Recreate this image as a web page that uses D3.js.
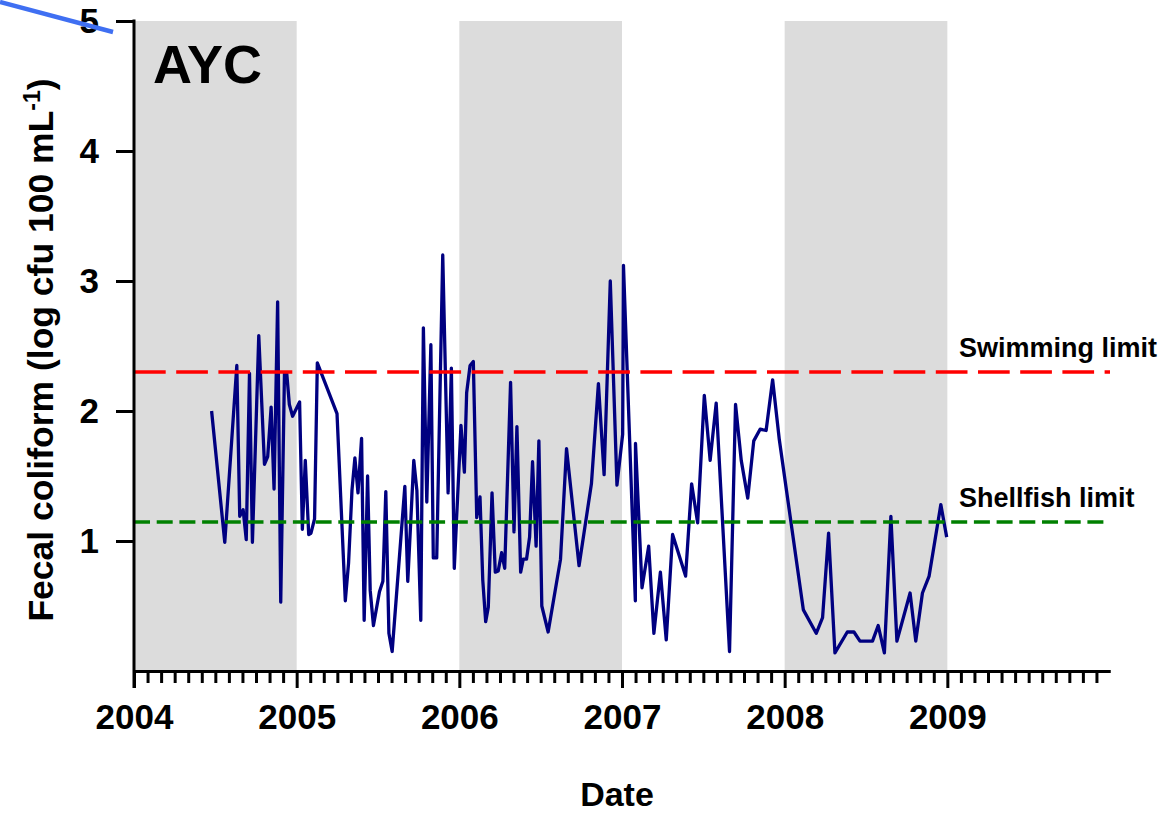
<!DOCTYPE html>
<html>
<head>
<meta charset="utf-8">
<script src="https://cdn.jsdelivr.net/npm/d3@7/dist/d3.min.js"></script>
<style>
  html, body { margin: 0; padding: 0; background: #fff; }
  svg { display: block; }
  text { font-family: "Liberation Sans", Arial, sans-serif; font-weight: bold; fill: #000; }
</style>
</head>
<body>
<svg id="chart" width="1173" height="813"></svg>
<script>
// ---- data (decimal years, log cfu per 100 mL) ----
const dates = [2004.477, 2004.558, 2004.632, 2004.650, 2004.671, 2004.690, 2004.710, 2004.728, 2004.767, 2004.802,
  2004.822, 2004.843, 2004.861, 2004.883, 2004.902, 2004.925, 2004.939, 2004.955, 2004.975, 2005.018,
  2005.035, 2005.053, 2005.074, 2005.088, 2005.110, 2005.127, 2005.248, 2005.299, 2005.319, 2005.340,
  2005.358, 2005.377, 2005.399, 2005.415, 2005.436, 2005.452, 2005.472, 2005.509, 2005.530, 2005.548,
  2005.567, 2005.587, 2005.665, 2005.683, 2005.720, 2005.739, 2005.763, 2005.779, 2005.800, 2005.825,
  2005.840, 2005.861, 2005.898, 2005.931, 2005.951, 2005.969, 2006.010, 2006.031, 2006.045, 2006.066,
  2006.086, 2006.107, 2006.127, 2006.144, 2006.162, 2006.178, 2006.201, 2006.221, 2006.239, 2006.260,
  2006.279, 2006.315, 2006.336, 2006.354, 2006.377, 2006.393, 2006.413, 2006.432, 2006.450, 2006.472,
  2006.489, 2006.507, 2006.546, 2006.622, 2006.659, 2006.736, 2006.812, 2006.855, 2006.890, 2006.928,
  2006.969, 2007.004, 2007.009, 2007.082, 2007.083, 2007.123, 2007.164, 2007.196, 2007.236, 2007.272,
  2007.311, 2007.391, 2007.428, 2007.465, 2007.506, 2007.542, 2007.579, 2007.661, 2007.698, 2007.733,
  2007.773, 2007.810, 2007.849, 2007.886, 2007.926, 2007.967, 2008.115, 2008.194, 2008.233, 2008.270,
  2008.309, 2008.385, 2008.426, 2008.463, 2008.540, 2008.575, 2008.613, 2008.653, 2008.690, 2008.771,
  2008.806, 2008.847, 2008.888, 2008.960, 2008.996];
const values = [2.00, 0.99, 2.35, 1.19, 1.24, 1.01, 2.29, 0.99, 2.58, 1.59,
  1.65, 2.03, 1.40, 2.84, 0.53, 2.29, 2.29, 2.05, 1.96, 2.07,
  1.09, 1.62, 1.05, 1.06, 1.17, 2.37, 1.98, 0.54, 0.83, 1.39,
  1.64, 1.37, 1.79, 0.39, 1.50, 0.62, 0.35, 0.61, 0.69, 1.38,
  0.29, 0.15, 1.42, 0.69, 1.62, 1.39, 0.39, 2.64, 1.30, 2.51,
  0.87, 0.87, 3.20, 1.37, 2.33, 0.79, 1.89, 1.53, 2.14, 2.35,
  2.38, 1.18, 1.34, 0.70, 0.38, 0.49, 1.37, 0.76, 0.77, 0.91,
  0.79, 2.22, 1.07, 1.88, 0.76, 0.86, 0.86, 1.03, 1.61, 0.96,
  1.77, 0.50, 0.30, 0.86, 1.71, 0.81, 1.44, 2.21, 1.51, 3.00,
  1.43, 1.82, 3.12, 0.54, 1.75, 0.64, 0.96, 0.29, 0.76, 0.24,
  1.05, 0.73, 1.44, 1.14, 2.12, 1.62, 2.06, 0.15, 2.05, 1.62,
  1.33, 1.77, 1.86, 1.85, 2.24, 1.78, 0.47, 0.29, 0.41, 1.06,
  0.14, 0.30, 0.30, 0.23, 0.23, 0.35, 0.14, 1.19, 0.23, 0.60,
  0.23, 0.60, 0.73, 1.28, 1.03];
const shadedYears = [2004, 2006, 2008];
const yearTicks = [2004, 2005, 2006, 2007, 2008, 2009];
const yTicks = [1, 2, 3, 4, 5];
const limits = [
  { name: "Swimming limit", value: 2.3, color: "#ff0000", dash: "31.7,10.5" },
  { name: "Shellfish limit", value: 1.146, color: "#008000", dash: "16,6.7" }
];
const siteLabel = "AYC";
const xTitle = "Date";

// ---- scales ----
const svg = d3.select("#chart");
const x = d3.scaleLinear().domain([2004, 2010]).range([134, 1110]);
const y = d3.scaleLinear().domain([0, 5]).range([671, 21]);

// shaded bands
svg.append("g").selectAll("rect").data(shadedYears).join("rect")
  .attr("x", d => x(d)).attr("y", y(5))
  .attr("width", d => x(d + 1) - x(d)).attr("height", y(0) - y(5))
  .attr("fill", "#dcdcdc");

// data line
const pts = dates.map((d, i) => [d, values[i]]);
svg.append("path").datum(pts)
  .attr("d", d3.line().x(d => x(d[0])).y(d => y(d[1])))
  .attr("fill", "none").attr("stroke", "#000080").attr("stroke-width", 3.3)
  .attr("stroke-linejoin", "round");

// limit lines
svg.append("g").selectAll("line").data(limits).join("line")
  .attr("x1", x(2004)).attr("x2", d => d.value > 2 ? x(2010) : x(2010) - 5)
  .attr("y1", d => y(d.value)).attr("y2", d => y(d.value))
  .attr("stroke", d => d.color).attr("stroke-width", 3.3)
  .attr("stroke-dasharray", d => d.dash);

svg.append("g").selectAll("text").data(limits).join("text")
  .attr("x", 959).attr("y", d => y(d.value) - 15)
  .style("font-size", "27px")
  .text(d => d.name);

// ---- axes ----
const months = d3.range(0, 72).map(i => 2004 + i / 12).filter(m => Math.abs(m - Math.round(m)) > 1e-6);
const gx = svg.append("g").attr("transform", `translate(0,${y(0)})`);
gx.call(d3.axisBottom(x).tickValues(months).tickSize(12).tickSizeOuter(0).tickFormat(""));
const gxMaj = svg.append("g").attr("transform", `translate(0,${y(0)})`);
gxMaj.call(d3.axisBottom(x).tickValues(yearTicks).tickSize(17).tickSizeOuter(0).tickFormat(d3.format("d")).tickPadding(16));
[gx, gxMaj].forEach(g => {
  g.selectAll("line").attr("stroke", "#000").attr("stroke-width", 3);
  g.select(".domain").attr("stroke", "#000").attr("stroke-width", 3);
});
gxMaj.selectAll("text").style("font-size", "35px").attr("fill", "#000")
  .attr("font-family", null).attr("dy", "0.71em");

const gy = svg.append("g").attr("transform", `translate(${x(2004)},0)`);
gy.call(d3.axisLeft(y).tickValues(yTicks).tickSize(18).tickSizeOuter(0).tickPadding(17).tickFormat(d3.format("d")));
gy.select(".domain").remove();
gy.selectAll("line").attr("stroke", "#000").attr("stroke-width", 3);
gy.selectAll("text").style("font-size", "35px").attr("fill", "#000").attr("font-family", null);
svg.append("line").attr("x1", x(2004)).attr("x2", x(2004))
  .attr("y1", y(5) - 1.5).attr("y2", y(0) + 17)
  .attr("stroke", "#000").attr("stroke-width", 3);

// site label
svg.append("text").attr("x", 153).attr("y", 83).style("font-size", "54px").text(siteLabel);

// axis titles
svg.append("text").attr("x", 617).attr("y", 806).attr("text-anchor", "middle")
  .style("font-size", "34px").text(xTitle);
const yt = svg.append("text").attr("transform", "translate(53,350) rotate(-90)")
  .attr("text-anchor", "middle").style("font-size", "35.5px");
yt.append("tspan").text("Fecal coliform (log cfu 100 mL");
yt.append("tspan").attr("dy", -13).style("font-size", "23px").text("-1");
yt.append("tspan").attr("dy", 13).text(")");

// stray blue stroke at top-left
svg.append("line").attr("x1", 0).attr("y1", 2).attr("x2", 113).attr("y2", 32)
  .attr("stroke", "#3f6ff2").attr("stroke-width", 4.5);
</script>
</body>
</html>
